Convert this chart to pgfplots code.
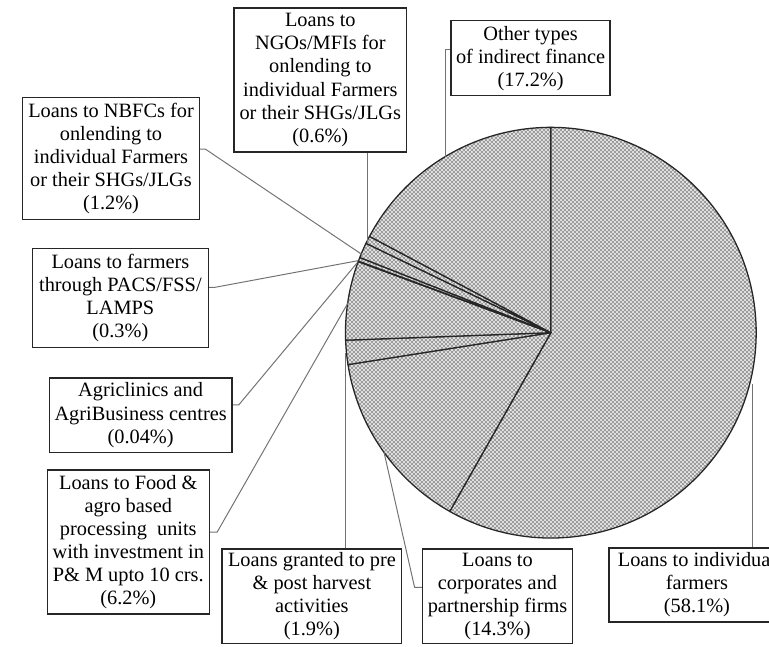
\documentclass[border=0pt]{standalone}
\usepackage{fontspec}
\setmainfont{Liberation Serif}
\usepackage{pgfplots}
\usepackage{pgfplotstable}
\pgfplotsset{compat=1.18}
\usetikzlibrary{patterns}

% fine grey checkerboard used for every slice
\pgfdeclarepatternformonly{checker}{\pgfpointorigin}{\pgfqpoint{4bp}{4bp}}{\pgfqpoint{4bp}{4bp}}{%
  \pgfpathrectangle{\pgfpointorigin}{\pgfqpoint{2bp}{2bp}}%
  \pgfpathrectangle{\pgfqpoint{2bp}{2bp}}{\pgfqpoint{2bp}{2bp}}%
  \pgfusepath{fill}}

% share of each kind of finance, clockwise from the top
\pgfplotstableread{
value
58.1
14.3
1.9
6.2
0.04
0.3
1.2
0.6
17.2
}\pietable

\newcommand\labelfont{\fontsize{20.6bp}{23.4bp}\selectfont}
\tikzset{
  box/.style={draw=black!85, line width=1.3bp, fill=white, align=center,
    inner sep=0pt, font=\labelfont},
  leader/.style={draw=black!55, line width=1bp},
}

\begin{document}
% total and slice angles
\xdef\pietotal{0}
\foreach \i in {0,...,8}{%
  \pgfplotstablegetelem{\i}{value}\of\pietable
  \pgfmathsetmacro\pietmp{\pietotal+\pgfplotsretval}%
  \xdef\pietotal{\pietmp}%
}
\xdef\piecum{0}
\foreach \i in {0,...,8}{%
  \pgfplotstablegetelem{\i}{value}\of\pietable
  \pgfmathsetmacro\pieStart{90-(\piecum/\pietotal)*360}%
  \pgfmathsetmacro\pieNext{\piecum+\pgfplotsretval}%
  \pgfmathsetmacro\pieEnd{90-(\pieNext/\pietotal)*360}%
  \expandafter\xdef\csname pieA\i\endcsname{\pieStart}%
  \expandafter\xdef\csname pieB\i\endcsname{\pieEnd}%
  \xdef\piecum{\pieNext}%
}
\begin{tikzpicture}
\path[use as bounding box, clip] (0,0) rectangle (769bp,655bp);
\begin{axis}[
  width=769bp, height=655bp, scale only axis,
  xmin=0, xmax=769, ymin=0, ymax=655, y dir=reverse,
  axis lines=none, ticks=none, clip=false,
]
% slices
\pgfplotsinvokeforeach{0,...,8}{
  \path[preaction={fill=gray!22}, pattern=checker, pattern color=gray!78,
        draw=black!85, line width=1.3bp, line join=round]
    (axis cs:548,337) -- ++(\csname pieA#1\endcsname:208bp)
    arc[start angle=\csname pieA#1\endcsname, end angle=\csname pieB#1\endcsname, radius=208bp]
    -- cycle;
}

% leader lines
\draw[leader] (axis cs:362,154) -- (axis cs:362,245);
\draw[leader] (axis cs:447,50) -- (axis cs:441,50) -- (axis cs:441,159);
\draw[leader] (axis cs:192,151) -- (axis cs:198,151) -- (axis cs:357,258);
\draw[leader] (axis cs:201,291) -- (axis cs:208,291) -- (axis cs:353,264);
\draw[leader] (axis cs:225,410) -- (axis cs:232,410) -- (axis cs:352,266);
\draw[leader] (axis cs:202,539) -- (axis cs:210,539) -- (axis cs:343,306);
\draw[leader] (axis cs:340,556) -- (axis cs:340,358);
\draw[leader] (axis cs:418,595) -- (axis cs:410,595) -- (axis cs:379,458);
\draw[leader] (axis cs:752,555) -- (axis cs:752,389);

% labels
\node[box, minimum width=175bp, minimum height=146bp] at (axis cs:314.5,81)
  {Loans to\\NGOs/MFIs for\\onlending to\\individual Farmers\\or their SHGs/JLGs\\(0.6\%)};
\node[box, minimum width=161bp, minimum height=76bp] at (axis cs:527.5,59)
  {Other types\\of indirect finance\\(17.2\%)};
\node[box, minimum width=179bp, minimum height=123bp] at (axis cs:102.5,160.5)
  {Loans to NBFCs for\\onlending to\\individual Farmers\\or their SHGs/JLGs\\(1.2\%)};
\node[box, minimum width=178bp, minimum height=100bp] at (axis cs:112,302)
  {Loans to farmers\\through PACS/FSS/\\LAMPS\\(0.3\%)};
\node[box, minimum width=185bp, minimum height=75bp] at (axis cs:132.5,420.5)
  {Agriclinics and\\AgriBusiness centres\\(0.04\%)};
\node[box, minimum width=164bp, minimum height=146bp] at (axis cs:120,549)
  {Loans to Food \&\\agro based\\processing\ \ units\\with investment in\\P\& M upto 10 crs.\\(6.2\%)};
\node[box, minimum width=182bp, minimum height=96bp] at (axis cs:306,604)
  {Loans granted to pre\\\& post harvest\\activities\\(1.9\%)};
\node[box, minimum width=152bp, minimum height=96bp] at (axis cs:494,604)
  {Loans to\\corporates and\\partnership firms\\(14.3\%)};
\node[box, minimum width=178bp, minimum height=75bp] at (axis cs:696,592.5)
  {Loans to individual\\farmers\\(58.1\%)};
\end{axis}
\end{tikzpicture}
\end{document}
